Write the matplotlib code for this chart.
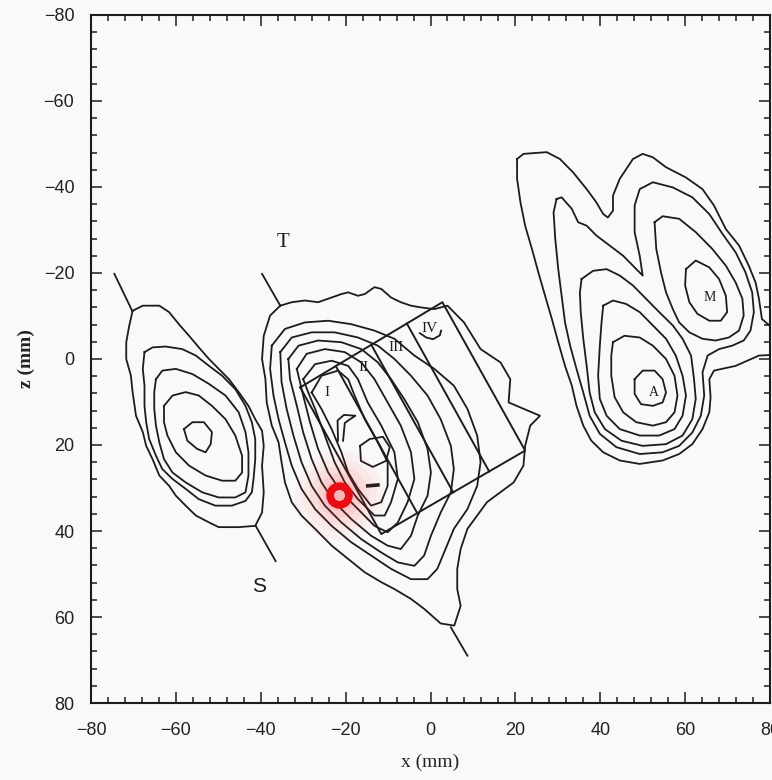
import matplotlib
matplotlib.use("Agg")
import matplotlib.pyplot as plt
from matplotlib.ticker import MultipleLocator

# ---------------- data (mm) ----------------
# left group contours (x, z)
left_c1 = [(-70.2,-11.2),(-67.8,-12.4),(-63.9,-12.4),(-61.6,-10.9),(-59.3,-8.1),(-56.9,-5.4),(-54.6,-2.7),
           (-52.2,0.0),(-49.9,2.3),(-47.5,4.7),(-45.2,7.7),(-42.9,10.9),(-41.3,14.0),(-39.7,16.7),(-39.3,20.2),
           (-39.7,24.8),(-39.3,31.0),(-39.7,35.7),(-41.3,38.8),(-45.2,39.1),(-49.9,39.1),(-52.2,38.0),(-55.3,36.4),
           (-57.7,34.1),(-60.0,31.8),(-61.6,29.5),(-63.9,27.1),(-65.5,23.3),(-67.0,20.2),(-67.8,17.0),(-69.4,13.2),
           (-70.2,7.7),(-70.6,3.9),(-71.7,0.0),(-71.7,-3.9),(-71.0,-7.7)]
left_c2 = [(-67.4,-1.6),(-65.5,-2.7),(-62.4,-2.9),(-58.5,-2.3),(-55.3,-0.8),(-52.2,1.6),(-49.1,3.9),(-46.0,7.0),
           (-43.6,10.9),(-42.1,14.7),(-41.3,18.6),(-41.3,23.3),(-41.7,27.9),(-42.1,31.0),(-43.6,33.0),(-46.8,34.1),
           (-50.7,34.1),(-54.6,32.6),(-57.7,30.2),(-60.8,27.9),(-63.2,25.6),(-64.7,22.5),(-66.3,18.6),(-67.0,14.7),
           (-67.4,10.9),(-67.4,6.2),(-67.8,2.3)]
left_c3 = [(-64.7,4.7),(-63.2,2.7),(-60.0,2.3),(-56.1,3.5),(-52.2,5.8),(-48.3,8.5),(-45.2,12.4),(-43.6,17.0),
           (-42.9,21.7),(-42.9,27.1),(-43.6,31.0),(-46.0,32.2),(-49.9,32.2),(-53.8,31.0),(-57.7,28.7),(-60.8,26.4),
           (-62.8,23.3),(-63.9,19.4),(-64.7,15.5),(-65.1,11.6),(-65.1,7.7)]
left_c4 = [(-62.8,10.9),(-60.8,8.5),(-57.7,7.7),(-54.6,8.5),(-51.5,10.9),(-48.3,14.0),(-46.0,17.8),(-44.4,22.5),
           (-44.4,26.4),(-46.0,28.3),(-49.1,28.3),(-53.0,27.1),(-56.9,24.8),(-60.0,21.7),(-62.0,17.8),(-62.8,14.7)]
left_c5 = [(-58.1,16.3),(-56.1,14.7),(-53.4,14.7),(-51.5,17.0),(-51.8,19.8),(-53.0,21.7),(-55.0,20.9),(-57.3,19.0)]
left_axis_top = [(-74.5,-19.8),(-70.3,-11.2)]
left_axis_bot = [(-41.2,38.8),(-36.5,47.0)]

# middle group contours
mid_c1 = [(-35.4,-12.4),(-32.7,-13.2),(-29.6,-13.6),(-26.5,-13.2),(-23.3,-14.3),(-21.0,-15.1),(-19.4,-15.5),
          (-17.1,-14.7),(-15.5,-15.1),(-13.2,-16.7),(-11.6,-16.3),(-9.3,-14.3),(-7.0,-13.2),(-4.6,-12.4),
          (-2.3,-12.0),(0.9,-11.6),(4.0,-12.4),(7.9,-8.5),(11.8,-2.3),(16.5,0.8),(18.8,4.7),(18.4,10.1),
          (25.8,13.2),(23.5,15.5),(22.3,20.2),(21.9,24.8),(19.6,28.7),(13.3,33.3),(8.7,39.5),(7.1,44.2),
          (6.3,48.8),(6.3,53.5),(7.1,57.4),(5.6,62.0),(2.4,61.5),(-1.5,58.1),(-4.6,55.8),(-8.5,53.5),
          (-11.6,51.9),(-15.5,49.6),(-19.4,46.5),(-23.3,43.4),(-27.2,39.5),(-30.4,36.4),(-32.7,33.3),
          (-34.3,28.7),(-35.1,24.0),(-35.8,19.4),(-37.4,15.5),(-38.6,10.1),(-38.9,4.7),(-39.7,0.0),
          (-39.3,-5.4),(-37.8,-10.1)]
mid_c2 = [(-37.4,-3.1),(-34.3,-7.0),(-29.6,-8.5),(-24.1,-8.9),(-18.7,-8.1),(-13.2,-6.6),(-8.5,-4.7),(-3.8,-0.8),
          (0.9,2.3),(5.5,6.2),(8.7,11.6),(11.0,17.8),(11.8,24.0),(11.0,29.5),(8.7,34.9),(5.5,39.5),(3.2,45.0),
          (1.6,48.8),(-0.7,51.2),(-4.6,51.2),(-9.3,48.8),(-14.0,45.7),(-18.7,42.6),(-23.3,38.8),(-27.2,34.9),
          (-30.4,30.2),(-32.7,24.8),(-34.3,19.4),(-35.8,14.0),(-37.0,8.5),(-37.8,2.3)]
mid_c3 = [(-35.4,-1.6),(-32.7,-5.0),(-28.0,-6.2),(-22.6,-6.2),(-17.1,-5.0),(-12.4,-3.1),(-8.5,0.0),(-4.6,3.9),
          (-0.7,8.5),(2.4,14.0),(4.8,20.2),(5.5,25.6),(4.8,31.0),(2.4,35.7),(0.1,41.1),(-1.5,45.7),(-3.8,48.1),
          (-7.7,47.3),(-11.6,45.0),(-16.3,41.9),(-21.0,38.0),(-24.9,34.1),(-28.0,29.5),(-30.4,24.0),(-32.3,17.8),
          (-33.9,11.6),(-35.1,5.4)]
mid_c4 = [(-33.5,0.0),(-31.1,-3.1),(-26.5,-4.3),(-21.0,-3.9),(-16.3,-2.3),(-12.4,0.8),(-9.3,4.7),(-6.2,9.3),
          (-3.0,14.7),(-0.7,20.9),(0.1,26.4),(-0.7,31.8),(-3.0,36.4),(-4.6,41.1),(-7.0,44.2),(-10.1,43.4),
          (-14.0,41.1),(-18.7,37.2),(-22.6,33.3),(-25.7,28.7),(-28.0,23.3),(-30.0,17.1),(-31.5,10.9),(-33.1,4.7)]
mid_c5 = [(-31.5,2.3),(-29.2,-1.2),(-24.9,-2.3),(-20.2,-1.6),(-16.3,0.8),(-13.2,4.7),(-10.1,10.1),(-7.0,15.5),
          (-4.6,21.7),(-3.8,27.9),(-5.4,33.3),(-7.7,38.0),(-10.1,40.3),(-13.2,38.8),(-17.1,34.9),(-21.0,31.0),
          (-24.1,26.4),(-26.5,20.9),(-28.4,14.7),(-30.0,8.5)]
mid_c6 = [(-30.0,4.7),(-27.2,1.2),(-23.3,0.4),(-19.4,1.6),(-17.1,4.7),(-14.8,10.1),(-11.6,15.5),(-8.5,21.7),
          (-7.7,27.9),(-9.3,33.3),(-10.8,36.4),(-13.2,36.4),(-17.1,32.6),(-20.2,28.7),(-22.6,24.0),(-24.9,17.8),
          (-27.2,11.6),(-28.8,7.8)]
mid_c7 = [(-28.0,7.8),(-25.7,3.9),(-21.8,2.7),(-19.4,4.7),(-17.9,8.5),(-15.5,14.0),(-12.4,19.4),(-10.1,24.0),
          (-10.1,29.5),(-11.6,33.3),(-14.0,34.1),(-17.1,30.2),(-19.4,26.4),(-21.0,21.7),(-23.3,16.3),(-25.7,11.6)]
mid_c8 = [(-21.8,19.0),(-21.9,14.3),(-20.4,13.0),(-17.7,13.2),(-19.4,14.3),(-20.2,14.9),(-20.6,19.0)]
mid_c9 = [(-16.6,20.2),(-14.3,18.6),(-11.2,18.1),(-9.6,20.5),(-10.5,23.7),(-13.6,25.1),(-16.4,23.7)]
mid_dash = [(-14.8,29.5),(-12.4,29.3)]
mid_curl = [(-2.5,-6.0),(-1.0,-5.0),(0.6,-4.6),(2.2,-5.5),(2.5,-6.6)]
mid_axis_top = [(-39.7,-19.8),(-35.4,-12.4)]
mid_axis_bot = [(4.8,62.4),(8.7,69.0)]

# right group contours
right_c1 = [(20.4,-46.5),(21.9,-47.7),(27.4,-48.1),(30.5,-46.5),(33.6,-43.4),(36.8,-39.5),(39.1,-36.4),
            (40.7,-33.7),(41.8,-32.9),(43.0,-34.5),(43.0,-38.0),(44.6,-41.9),(47.7,-46.5),(50.0,-47.7),
            (52.4,-46.9),(55.5,-44.6),(60.2,-42.2),(64.1,-39.5),(66.8,-35.7),(69.6,-30.2),(72.7,-26.4),
            (75.0,-21.7),(76.6,-17.8),(77.4,-14.0),(78.1,-9.3),(82.0,-6.0),(82.0,-1.0),(77.4,-0.8),(71.9,1.6),
            (66.8,2.7),(65.7,4.7),(66.0,8.9),(65.7,12.4),(64.1,16.3),(61.7,19.8),(58.6,22.1),(54.7,23.6),
            (49.3,24.4),(44.6,23.6),(40.7,21.7),(37.9,19.0),(36.0,15.5),(34.4,10.9),(33.3,6.2),(31.7,1.6),
            (30.1,-3.9),(28.6,-9.3),(27.0,-14.7),(25.4,-20.2),(23.9,-25.6),(22.3,-31.0),(21.2,-36.4),(20.4,-41.9)]
right_c2 = [(29.7,-37.2),(30.9,-37.6),(33.3,-34.9),(34.8,-31.8),(36.8,-31.0),(39.1,-28.7),(42.2,-26.4),
            (45.4,-24.0),(48.5,-20.9),(50.0,-19.4),(49.3,-24.0),(48.1,-29.5),(48.1,-35.7),(49.3,-39.5),
            (52.4,-41.1),(57.1,-39.9),(61.7,-37.6),(65.7,-33.7),(68.8,-29.1),(71.9,-24.8),(74.2,-20.2),
            (75.8,-15.5),(76.2,-10.9),(75.4,-6.6),(73.8,-4.3),(71.1,-3.1),(68.0,-2.3),(65.3,-0.8),(64.1,3.1),
            (64.5,8.5),(63.7,13.2),(61.7,17.1),(58.6,20.2),(54.7,21.7),(49.3,22.1),(43.8,20.5),(39.9,17.4),
            (37.5,13.2),(36.0,7.8),(34.4,2.3),(32.9,-3.1),(31.7,-8.5),(30.9,-14.7),(30.1,-20.9),(29.4,-27.9),
            (29.0,-34.1)]
right_m1 = [(60.2,-20.9),(62.5,-22.9),(65.7,-21.3),(68.0,-18.6),(69.6,-14.7),(69.9,-10.9),(68.4,-8.9),
            (65.7,-8.9),(62.9,-10.5),(61.0,-13.2),(60.0,-17.1)]
right_m2 = [(52.8,-31.8),(54.7,-33.2),(58.6,-32.6),(62.5,-29.5),(66.4,-25.6),(69.6,-21.7),(71.9,-17.8),
            (73.5,-14.0),(73.8,-10.1),(72.7,-6.6),(70.3,-5.0),(67.2,-4.3),(64.1,-4.7),(61.0,-6.2),(58.6,-8.5),
            (57.1,-11.6),(55.5,-15.5),(54.3,-20.2),(53.2,-25.6)]
right_a1 = [(48.1,4.7),(50.0,2.7),(52.8,2.7),(54.7,4.7),(55.5,7.8),(54.7,10.1),(52.4,10.9),(49.6,10.5),(48.1,8.1)]
right_a2 = [(43.0,-3.9),(45.7,-5.4),(49.3,-5.0),(52.4,-3.1),(55.5,0.0),(57.5,3.9),(58.2,8.5),(57.5,12.4),
            (55.5,14.7),(52.4,15.5),(48.5,14.7),(45.4,12.4),(43.4,8.9),(42.6,3.9),(42.6,-0.8)]
right_a3 = [(40.7,-12.4),(43.0,-13.6),(46.1,-12.8),(49.3,-10.9),(52.4,-7.8),(55.5,-4.7),(57.8,-0.8),(59.4,3.9),
            (60.2,8.5),(59.4,13.2),(57.5,16.3),(53.9,17.8),(49.3,17.8),(44.6,16.3),(41.5,13.2),(39.9,9.3),
            (39.5,3.9),(39.9,-3.1),(40.3,-8.5)]
right_a4 = [(35.6,-18.6),(38.3,-20.5),(41.5,-20.9),(44.6,-19.4),(47.7,-17.1),(50.8,-14.0),(53.9,-10.9),
            (57.1,-7.8),(59.4,-4.7),(61.4,-0.8),(62.1,4.7),(62.5,9.3),(61.7,14.0),(59.4,17.8),(55.5,19.8),
            (50.0,20.2),(45.0,19.0),(41.1,16.3),(38.7,12.4),(37.5,7.8),(36.8,1.6),(36.0,-4.7),(35.4,-10.9),
            (35.2,-15.5)]

# measurement box (corners: TL, TR, BR, BL) and its strip labels
box_corners = [(-30.7, 6.6), (2.8, -13.2), (22.3, 21.3), (-11.6, 40.7)]
strip_labels = ["I", "II", "III", "IV"]
strip_label_pos = [(-24.5, 7.8), (-15.9, 1.9), (-8.1, -2.7), (-0.3, -7.0)]

# text labels
point_labels = ["T", "S", "A", "M"]
point_label_pos = [(-34.7, -27.2), (-40.3, 53.0), (52.7, 7.7), (65.8, -14.4)]

# red marker
marker_x, marker_z = -21.5, 31.6

xticks = [-80, -60, -40, -20, 0, 20, 40, 60, 80]
zticks = [-80, -60, -40, -20, 0, 20, 40, 60, 80]

# ---------------- plotting ----------------
plt.rcParams['font.family'] = ['Liberation Sans', 'DejaVu Sans']
fig = plt.figure(figsize=(7.72, 7.80), dpi=100, facecolor='#f9f9f9')
ax = fig.add_axes([0.1179, 0.0987, 0.8795, 0.8821])
ax.set_facecolor('#f9f9f9')

LC = '#1c1c1c'
LW = 1.3

closed = [left_c1, left_c2, left_c3, left_c4, left_c5,
          mid_c1, mid_c2, mid_c3, mid_c4, mid_c5, mid_c6, mid_c7, mid_c9,
          right_c1, right_c2, right_m1, right_m2, right_a1, right_a2, right_a3, right_a4]
opened = [left_axis_top, left_axis_bot, mid_axis_top, mid_axis_bot, mid_c8, mid_curl]

for ring in closed:
    xs = [p[0] for p in ring] + [ring[0][0]]
    zs = [p[1] for p in ring] + [ring[0][1]]
    ax.plot(xs, zs, color=LC, lw=LW, solid_joinstyle='round')
for seg in opened:
    ax.plot([p[0] for p in seg], [p[1] for p in seg], color=LC, lw=LW)
ax.plot([p[0] for p in mid_dash], [p[1] for p in mid_dash], color=LC, lw=2.6)

# box with four strips
(tlx, tlz), (trx, trz), (brx, brz), (blx, blz) = box_corners
bx = [tlx, trx, brx, blx, tlx]
bz = [tlz, trz, brz, blz, tlz]
ax.plot(bx, bz, color=LC, lw=1.4)
n = len(strip_labels)
for k in range(1, n):
    f = k / n
    ax.plot([tlx + f * (trx - tlx), blx + f * (brx - blx)],
            [tlz + f * (trz - tlz), blz + f * (brz - blz)], color=LC, lw=1.4)
for lab, (x, z) in zip(strip_labels, strip_label_pos):
    ax.text(x, z, lab, fontsize=11, family='Liberation Serif',
            ha='center', va='center', color=LC)

# point labels
label_fonts = {'T': ('Liberation Serif', 15), 'S': ('Liberation Sans', 15),
               'A': ('Liberation Serif', 10), 'M': ('Liberation Serif', 10)}
for lab, (x, z) in zip(point_labels, point_label_pos):
    fam, fs = label_fonts[lab]
    ax.text(x, z, lab, fontsize=fs, family=fam, ha='center', va='center', color=LC)

# red glowing marker
for s, a in zip([4200, 2800, 1800, 1000, 500], [0.035, 0.045, 0.06, 0.08, 0.1]):
    ax.scatter([marker_x], [marker_z], s=s, color='#ff2a2a', alpha=a, lw=0, zorder=5)
ax.plot([marker_x], [marker_z], 'o', ms=13.5, mfc='#f5b5b5', mec='#e80c14', mew=5.5, zorder=6)

# axes
ax.set_xlim(-80, 80)
ax.set_ylim(80, -80)
ax.set_xticks(xticks)
ax.set_yticks(zticks)
ax.xaxis.set_minor_locator(MultipleLocator(4))
ax.yaxis.set_minor_locator(MultipleLocator(4))
ax.tick_params(which='both', direction='in', top=True, right=True, color=LC, width=1.1)
ax.tick_params(which='major', length=8, labelsize=13, labelcolor='#222222')
ax.tick_params(which='minor', length=4)
ax.tick_params(axis='x', pad=14)
ax.tick_params(axis='y', pad=12)
for sp in ax.spines.values():
    sp.set_linewidth(1.5)
    sp.set_color(LC)

ax.set_xlabel('x (mm)', family='Liberation Serif', fontsize=14, labelpad=10, color='#222222')
ax.set_ylabel('z (mm)', family='Liberation Serif', fontsize=14, fontweight='bold', labelpad=6, color='#222222')

fig.savefig('out.png', dpi=100, facecolor=fig.get_facecolor())
